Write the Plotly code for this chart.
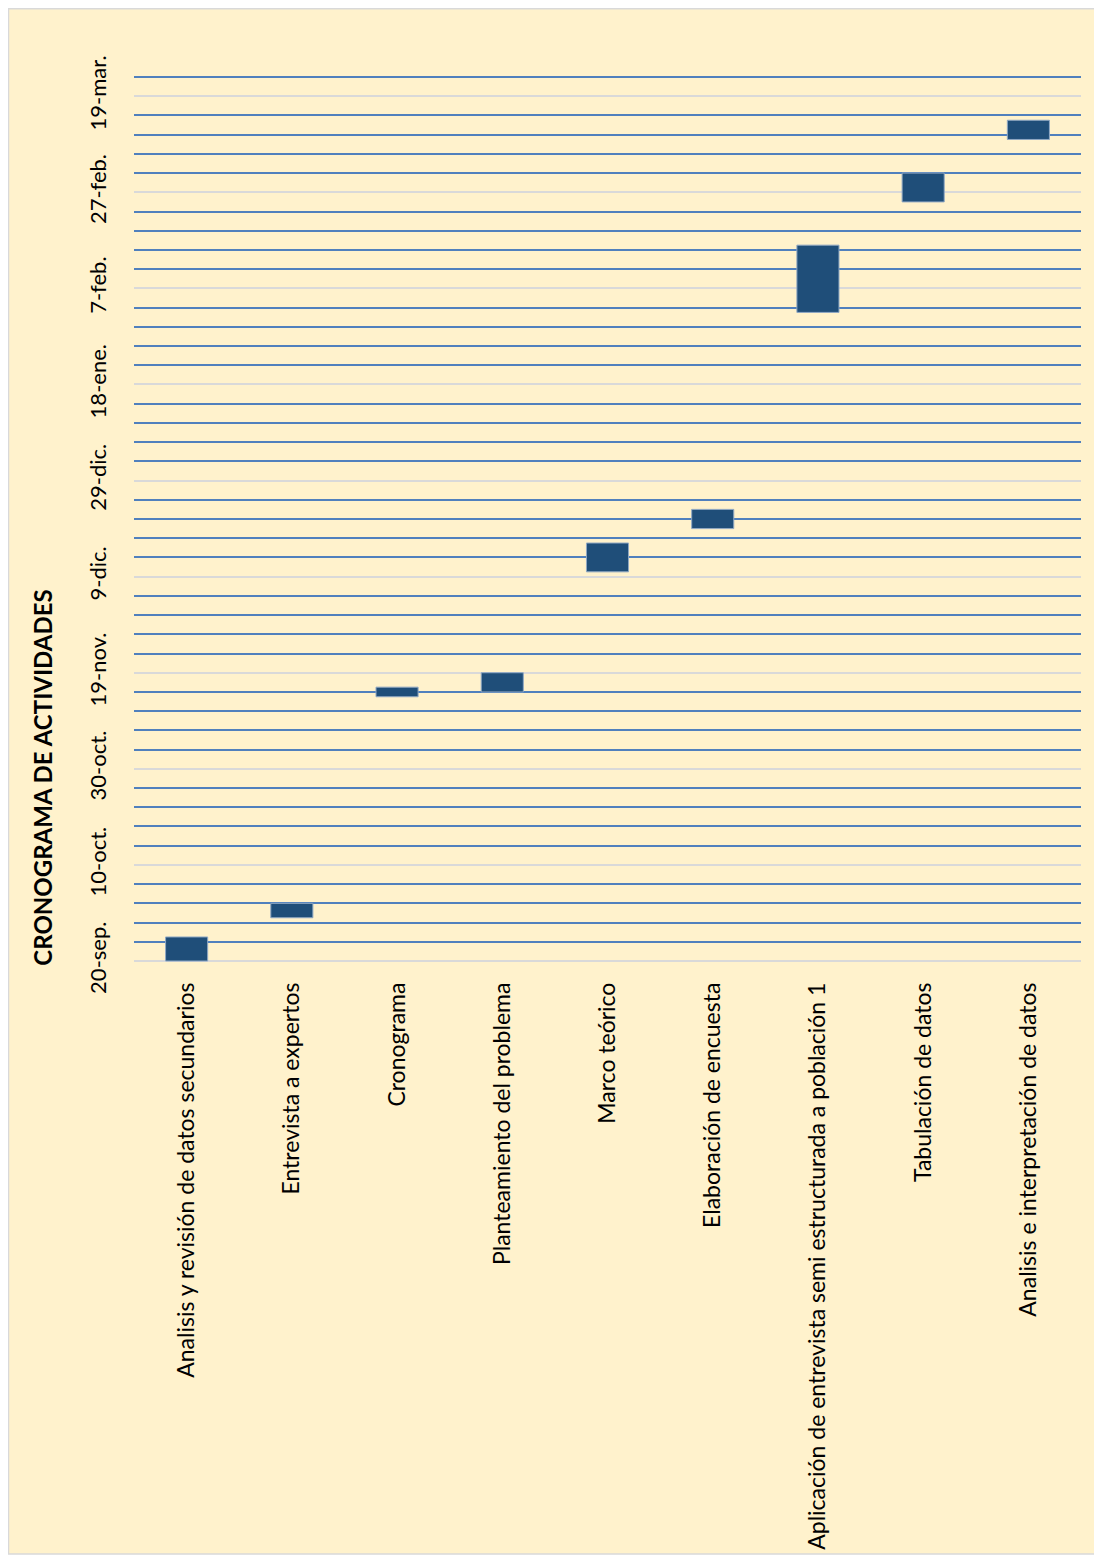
import pandas as pd
import plotly.graph_objects as go

# ---- data ----
actividades = [
    "Analisis y revisión de datos secundarios",
    "Entrevista a expertos",
    "Cronograma",
    "Planteamiento del problema",
    "Marco teórico",
    "Elaboración de encuesta",
    "Aplicación de entrevista semi estructurada a población 1",
    "Tabulación de datos",
    "Analisis e interpretación de datos",
]
inicio = ["2020-09-20", "2020-09-29", "2020-11-14", "2020-11-15", "2020-12-10",
          "2020-12-19", "2021-02-02", "2021-02-25", "2021-03-10"]
fin = ["2020-09-25", "2020-10-02", "2020-11-16", "2020-11-19", "2020-12-16",
       "2020-12-23", "2021-02-16", "2021-03-03", "2021-03-14"]

tick_fechas = ["2020-09-20", "2020-10-10", "2020-10-30", "2020-11-19", "2020-12-09",
               "2020-12-29", "2021-01-18", "2021-02-07", "2021-02-27", "2021-03-19"]
tick_textos = ["20-sep.", "10-oct.", "30-oct.", "19-nov.", "9-dic.",
               "29-dic.", "18-ene.", "7-feb.", "27-feb.", "19-mar."]
rango_fechas = ["2020-09-19 14:00", "2021-03-23 10:00"]
titulo = "CRONOGRAMA DE ACTIVIDADES"

# ---- figure ----
W, H = 1094, 1554
L, R, T, B = 126, 21, 67, 596

start = pd.to_datetime(inicio)
dur_ms = ((pd.to_datetime(fin) - start).total_seconds() * 1000).tolist()

fig = go.Figure(go.Bar(
    x=actividades,
    y=dur_ms,
    base=[s.strftime("%Y-%m-%d") for s in start],
    width=0.4,
    marker=dict(color="#1F4E79", line=dict(color="#8FA8C4", width=1)),
    showlegend=False,
))

font_fam = "Lato, 'Open Sans', sans-serif"

fig.update_layout(
    width=W, height=H,
    margin=dict(l=L, r=R, t=T, b=B),
    paper_bgcolor="white",
    plot_bgcolor="rgba(0,0,0,0)",
    font=dict(family=font_fam, color="#000000"),
    xaxis=dict(
        type="category",
        tickangle=-90,
        tickfont=dict(size=23, family=font_fam, color="#000000"),
        ticklabelstandoff=14,
        showgrid=False,
        showline=False,
        zeroline=False,
        ticks="",
    ),
    yaxis=dict(
        type="date",
        range=rango_fechas,
        tickmode="array",
        tickvals=tick_fechas,
        ticktext=tick_textos,
        tickangle=-90,
        tickfont=dict(size=22, family=font_fam, color="#000000"),
        ticklabelstandoff=23,
        showgrid=True,
        gridcolor="#D9D9D9",
        gridwidth=1.5,
        zeroline=False,
        showline=False,
        ticks="",
        minor=dict(
            tick0="2020-09-20",
            dtick=4 * 24 * 3600 * 1000,
            showgrid=True,
            gridcolor="#5080BD",
            gridwidth=1.5,
        ),
    ),
    bargap=0.6,
)

# chart frame (cream area with light border)
pw = W - L - R
ph = H - T - B
def px_x(x):
    return (x - L) / pw
def px_y(y):
    return (H - B - y) / ph

fig.add_shape(
    type="rect", xref="paper", yref="paper", layer="below",
    x0=px_x(0.5), x1=px_x(1093.5), y0=px_y(1551), y1=px_y(0.5),
    fillcolor="#FFF2CC", line=dict(color="#D9D9D9", width=1.5),
)

fig.add_annotation(
    text="<b>" + titulo + "</b>",
    xref="paper", yref="paper",
    x=px_x(35), y=px_y(772),
    textangle=-90, showarrow=False,
    font=dict(size=24, family=font_fam, color="#000000"),
    xanchor="center", yanchor="middle",
)

fig.write_html("out.html")
